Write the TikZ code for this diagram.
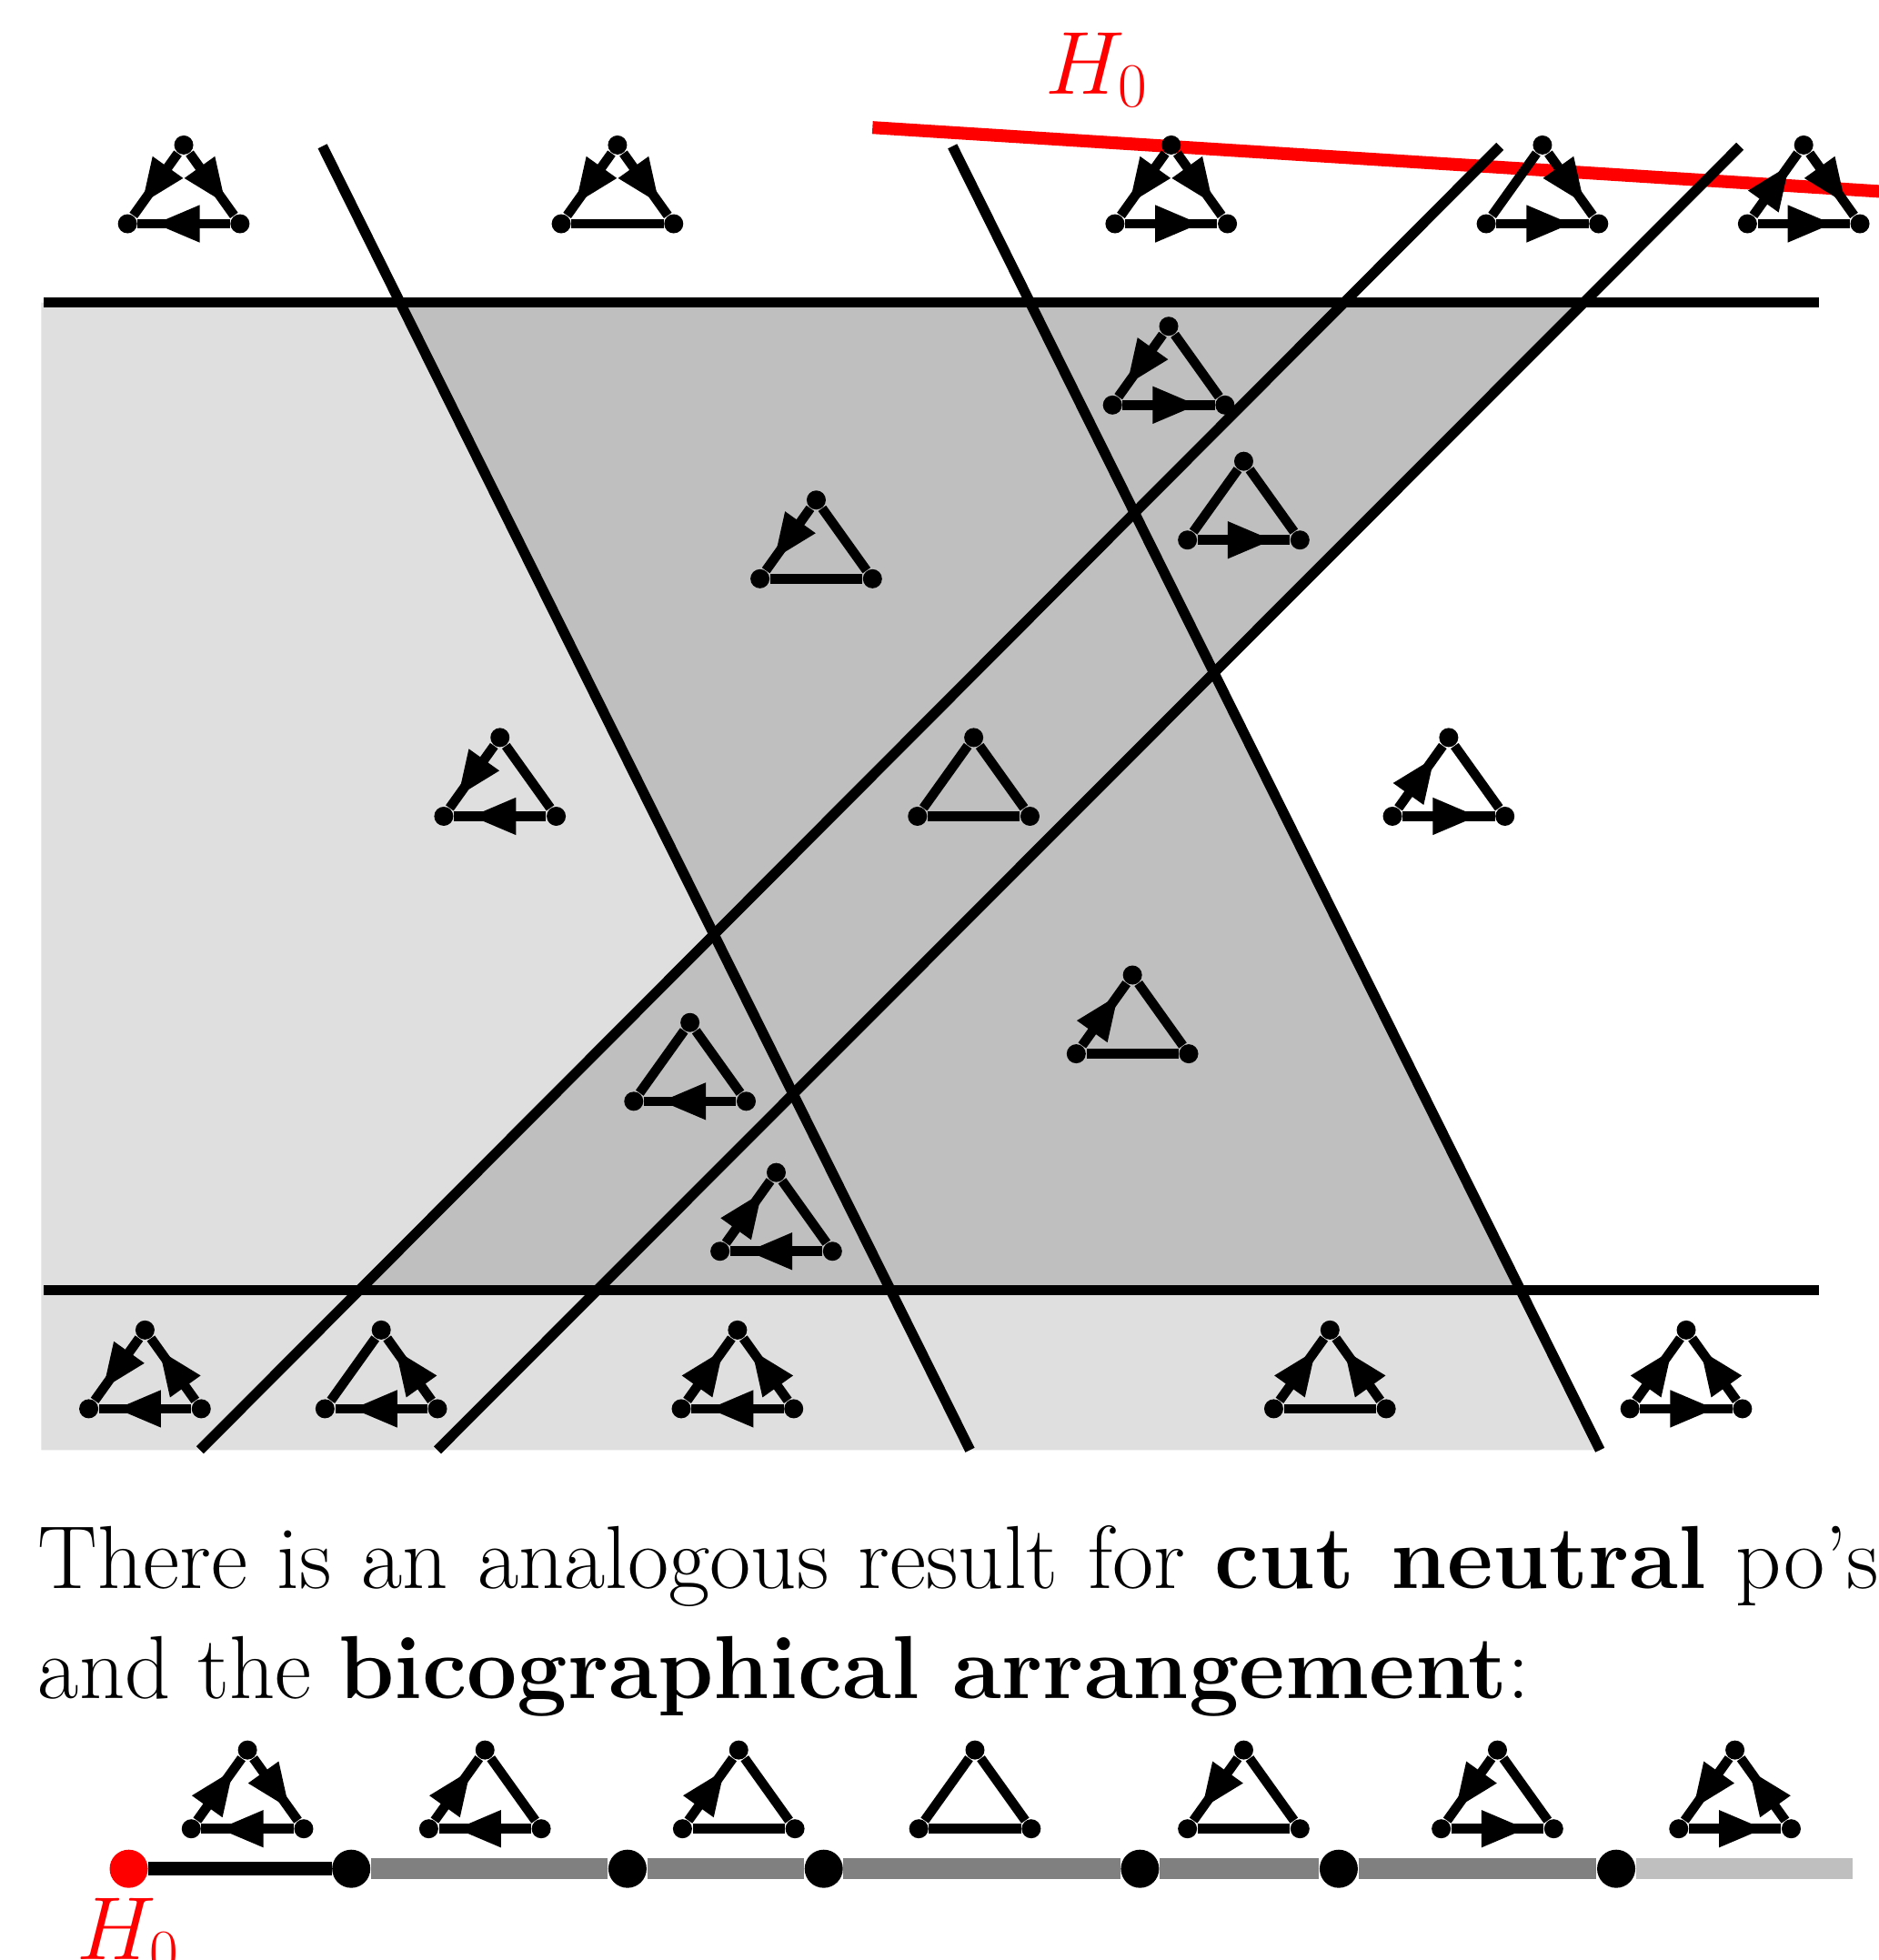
\documentclass[tikz,border=0pt]{standalone}
\usepackage{fix-cm}
\usepackage{fontspec}
\usepackage{xcolor}
\usepackage{tikz}
\usetikzlibrary{arrows.meta,positioning,calc,decorations.markings}
\tikzset{
  hd/.tip={Triangle[length=0.5cm,width=0.38cm]},
  vx/.style={circle,fill,inner sep=0pt,minimum size=0.21cm},
  adot/.style={circle,fill,inner sep=0pt,minimum size=0.42cm},
  ed/.style={line width=3pt},
  pl/.style={},
  fw/.style={postaction={decorate},decoration={markings,mark=at position 0.82 with {\arrow{hd}}}},
  bw/.style={postaction={decorate},decoration={markings,mark=at position 0.18 with {\arrowreversed{hd}}}},
  cut/.style={line width=3.2pt},
  hzero/.style={red,line width=4pt},
}
% one small triangle: name, apex, left edge, right edge, bottom edge
\newcommand{\tri}[5]{%
  \node[vx] (#1a) at (#2) {};
  \node[vx] (#1l) at ($(#2)+(-45,63)$) {};
  \node[vx] (#1r) at ($(#2)+(45,63)$) {};
  \draw[ed,#3] (#1a) -- (#1l);
  \draw[ed,#4] (#1a) -- (#1r);
  \draw[ed,#5] (#1l) -- (#1r);
}

\begin{document}
\begin{tikzpicture}[x=0.013746cm,y=-0.013746cm,font=\fontsize{28}{34.4}\selectfont]
\useasboundingbox (0,0) rectangle (1503,1568);
% the cutting lines
\coordinate (a1) at (258,117); \coordinate (b1) at (776,1160);
\coordinate (a2) at (762,117); \coordinate (b2) at (1280,1160);
\coordinate (c1) at (160,1160); \coordinate (e1) at (1200,117);
\coordinate (c2) at (350,1160); \coordinate (e2) at (1392,117);
\coordinate (tl) at (35,242); \coordinate (tr) at (1455,242);
\coordinate (bl) at (35,1032); \coordinate (br) at (1455,1032);
\fill[gray!25] (33,242) -- (intersection of a1--b1 and tl--tr) -- (intersection of a1--b1 and c1--e1)
  -- (intersection of c1--e1 and bl--br) -- (intersection of a2--b2 and bl--br) -- (b2) -- (33,1160) -- cycle;
\fill[gray!50] (intersection of a1--b1 and tl--tr) -- (intersection of c2--e2 and tl--tr)
  -- (intersection of c2--e2 and a2--b2) -- (intersection of a2--b2 and bl--br)
  -- (intersection of c1--e1 and bl--br) -- (intersection of a1--b1 and c1--e1) -- cycle;
\coordinate (r1) at (698,102); \coordinate (r2) at (1510,153.5);
\draw[hzero] (r1) -- (r2);
\node[red,anchor=base west,inner sep=0pt] (h0t) at (836,75) {$H_0$};
\foreach \s/\t in {a1/b1,a2/b2,c1/e1,c2/e2,tl/tr,bl/br} \draw[cut] (\s) -- (\t);
% triangles in the regions
\foreach \n/\x/\y/\lt/\rt/\bt in {
  t1/147/116/fw/fw/bw, t2/494/116/fw/fw/pl, t3/937/116/fw/fw/fw, t4/1234/116/pl/fw/fw, t5/1443/116/bw/fw/fw,
  m1/935/261/fw/pl/fw, m2/995/369/pl/pl/fw, m3/653/400/fw/pl/pl, m4/400/590/fw/pl/bw, m5/779/590/pl/pl/pl,
  m6/1159/590/bw/pl/fw, m7/906/780/bw/pl/pl, m8/552/818/pl/pl/bw, m9/621/938/bw/pl/bw,
  u1/116/1064/fw/bw/bw, u2/305/1064/pl/bw/bw, u3/590/1064/bw/bw/bw, u4/1064/1064/bw/bw/pl, u5/1349/1064/bw/bw/fw,
  s1/198/1400/bw/fw/bw, s2/388/1400/bw/pl/bw, s3/591/1400/bw/pl/pl, s4/780/1400/pl/pl/pl,
  s5/995/1400/fw/pl/pl, s6/1198/1400/fw/pl/fw, s7/1388/1400/fw/bw/fw}
  \tri{\n}{\x,\y}{\lt}{\rt}{\bt};
\node[anchor=north west,text width=20.25cm,align=justify,inner sep=0pt] (txt) at (30,1220)
  {There is an analogous result for \textbf{cut neutral} po's\linebreak and the \textbf{bicographical arrangement}:};
% the line of arrangements
\node[adot,red] (h0) at (103,1495) {};
\foreach \i/\x in {1/281,2/502,3/659,4/912,5/1071,6/1293} \node[adot] (p\i) at (\x,1495) {};
\coordinate (pe) at (1482,1495);
\draw[line width=4.3pt] (h0) -- (p1);
\draw[gray,line width=6.5pt] (p1) -- (p2) -- (p3) -- (p4) -- (p5) -- (p6);
\draw[gray!50,line width=6.5pt] (p6) -- (pe);
\node[red,below=0.1cm of h0,inner sep=0pt] (h0b) {$H_0$};
\end{tikzpicture}
\end{document}
